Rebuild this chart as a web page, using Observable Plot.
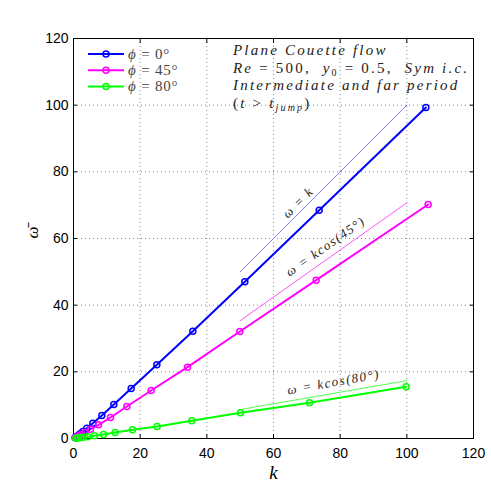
<!DOCTYPE html>
<html><head><meta charset="utf-8">
<script src="https://cdn.jsdelivr.net/npm/d3@7"></script>
<script src="https://cdn.jsdelivr.net/npm/@observablehq/plot@0.6"></script>
<style>body{margin:0;background:#fff} svg{display:block}</style>
</head><body><div id="chart"></div>
<script>
// ---- data ----
const series = ["ϕ = 0°", "ϕ = 45°", "ϕ = 80°"];
const angles = [0, 45, 80];
const colors = ["#0000ff", "#ff00ff", "#00ff00"];
const refColors = ["#7070ff", "#ff40ff", "#40ff40"];

const k0 = [105.7, 73.7, 51.4, 35.8, 25.0, 17.3, 12.1, 8.5, 5.8, 4.0, 2.8, 2.0, 1.4, 1.0, 0.7, 0.5];
const w0 = [99.3, 68.5, 47.0, 32.2, 22.1, 15.0, 10.2, 6.9, 4.6, 3.1, 2.1, 1.4, 0.9, 0.6, 0.4, 0.3];
const k45 = [106.4, 72.8, 49.9, 34.2, 23.3, 16.0, 11.1, 7.5, 5.1, 3.4, 2.3, 1.6, 1.1, 0.7, 0.5];
const w45 = [70.2, 47.5, 32.1, 21.4, 14.4, 9.6, 6.3, 4.1, 2.8, 1.8, 1.2, 0.8, 0.5, 0.3, 0.2];
const k80 = [99.8, 70.8, 50.1, 35.5, 25.1, 17.7, 12.5, 9.0, 6.3, 4.3, 3.0, 2.1, 1.5, 1.0, 0.7];
const w80 = [15.5, 10.7, 7.7, 5.3, 3.6, 2.6, 1.8, 1.2, 0.8, 0.5, 0.4, 0.3, 0.2, 0.1, 0.1];

const refK = [50, 100];
const refLabels = ["ω = k", "ω = kcos(45°)", "ω = kcos(80°)"];
const refLabelK = [67.4, 75.6, 78.0];
const refLabelW = [70.8, 57.6, 16.9];

const xTicks = [0, 20, 40, 60, 80, 100, 120];
const yTicks = [0, 20, 40, 60, 80, 100, 120];

const noteLines = [
  [["Plane Couette flow", "i"]],
  [["Re", "i"], [" = 500,  ", "n"], ["y", "i"], ["0", "sn"], [" = 0.5,  ", "n"], ["Sym i.c.", "i"]],
  [["Intermediate and far period", "i"]],
  [["(", "n"], ["t", "i"], [" > ", "n"], ["t", "i"], ["jump", "s"], [")", "n"]]
];

// ---- derived tables ----
const ks = [k0, k45, k80], ws = [w0, w45, w80];
const points = series.flatMap((s, i) => ks[i].map((k, j) => ({series: s, k, w: ws[i][j]})));
const refsOf = i => refK.map(k => ({k, w: k * Math.cos(angles[i] * Math.PI / 180)}));
const labels = refLabels.map((t, i) => ({t, k: refLabelK[i], w: refLabelW[i], a: [-45, -35, -10][i]}));

const serif = "'Liberation Serif', 'DejaVu Serif', serif";
const tickFmt = () => "";

const chart = Plot.plot({
  width: 491, height: 491,
  marginLeft: 73, marginRight: 18, marginTop: 38, marginBottom: 53,
  x: {domain: [0, 120]},
  y: {domain: [0, 120]},
  color: {domain: series, range: colors},
  style: {fontFamily: "'Liberation Sans', Arial, sans-serif", fontSize: "14px", color: "#000", background: "#fff"},
  marks: [
    Plot.gridX(xTicks, {stroke: "#888", strokeOpacity: 1, strokeDasharray: "1,3"}),
    Plot.gridY(yTicks, {stroke: "#888", strokeOpacity: 1, strokeDasharray: "1,3"}),
    Plot.axisX(xTicks, {anchor: "bottom", tickSize: 0, tickPadding: 10, label: null, fontSize: 14}),
    Plot.axisY(yTicks, {anchor: "left", tickSize: 0, tickPadding: 5, label: null, fontSize: 14}),
    Plot.axisX(xTicks, {anchor: "bottom", tickSize: 4, dy: -4, tickFormat: tickFmt, label: null}),
    Plot.axisX(xTicks, {anchor: "top", tickSize: 4, dy: 4, tickFormat: tickFmt, label: null}),
    Plot.axisY(yTicks, {anchor: "left", tickSize: 4, dx: 4, tickFormat: tickFmt, label: null}),
    Plot.axisY(yTicks, {anchor: "right", tickSize: 4, dx: -4, tickFormat: tickFmt, label: null}),
    Plot.frame({stroke: "#000", strokeWidth: 1}),
    ...series.map((s, i) => Plot.line(refsOf(i), {x: "k", y: "w", stroke: refColors[i], strokeWidth: 0.9})),
    Plot.line(points, {x: "k", y: "w", z: "series", stroke: "series", strokeWidth: 2}),
    Plot.dot(points, {x: "k", y: "w", stroke: "series", r: 3, strokeWidth: 1.5, fill: "none"}),
    Plot.text(labels, {x: "k", y: "w", text: "t", rotate: "a", fontFamily: serif, fontStyle: "italic", fontSize: 13, fill: "#222", className: "reflab"}),
    Plot.text(["k"], {frameAnchor: "bottom", dy: 40, fontFamily: serif, fontStyle: "italic", fontSize: 19}),
    Plot.text(["ω̄"], {frameAnchor: "left", dx: -41, rotate: -90, fontFamily: serif, fontStyle: "italic", fontSize: 17})
  ]
});
document.getElementById("chart").append(chart);

// ---- legend and notes (drawn into the same SVG) ----
const svg = d3.select(chart);
const sx = chart.scale("x"), sy = chart.scale("y");
const X = d3.scaleLinear(sx.domain, sx.range), Y = d3.scaleLinear(sy.domain, sy.range);
const fLeft = X(0), fTop = Y(120);
svg.selectAll(".reflab text").style("letter-spacing", "1.5px");

const L = svg.append("g").attr("text-anchor", "start");
series.forEach((s, i) => {
  const yy = fTop + 16 + i * 16.2;
  L.append("line").attr("x1", fLeft + 15).attr("x2", fLeft + 51).attr("y1", yy).attr("y2", yy)
    .attr("stroke", colors[i]).attr("stroke-width", 2);
  L.append("circle").attr("cx", fLeft + 33).attr("cy", yy).attr("r", 3).attr("fill", "none")
    .attr("stroke", colors[i]).attr("stroke-width", 1.5);
  const t = L.append("text").attr("x", fLeft + 55).attr("y", yy + 5)
    .attr("font-family", serif).attr("font-size", 15).attr("fill", "#444").style("letter-spacing", "0.8px");
  t.append("tspan").attr("font-style", "italic").text(s.slice(0, 1));
  t.append("tspan").text(s.slice(1));
});

const N = svg.append("g").attr("text-anchor", "start").attr("font-family", serif).attr("font-size", 15).attr("fill", "#222");
noteLines.forEach((segs, i) => {
  const t = N.append("text").attr("x", X(48)).attr("y", fTop + 17 + i * 17.7).style("letter-spacing", "2.2px");
  let prevSub = false;
  segs.forEach(([txt, st]) => {
    const sp = t.append("tspan").text(txt);
    const isSub = st === "s" || st === "sn";
    if (st === "i" || st === "s") sp.attr("font-style", "italic");
    if (isSub) sp.attr("font-size", 10);
    sp.attr("dy", isSub && !prevSub ? 3 : (!isSub && prevSub ? -3 : 0));
    prevSub = isSub;
  });
});
</script>
</body></html>
